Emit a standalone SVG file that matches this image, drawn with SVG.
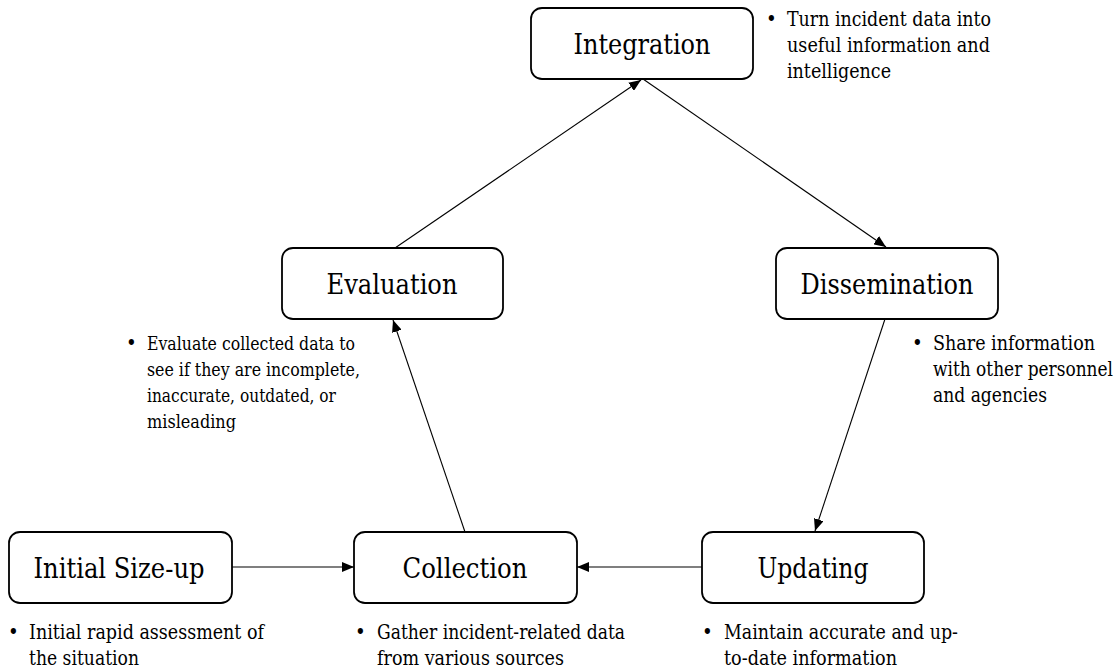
<svg xmlns="http://www.w3.org/2000/svg" width="1120" height="669" viewBox="0 0 1120 669">
  <style>
    .box { fill: #ffffff; stroke: #000000; stroke-width: 1.8; }
    text { font-family: 'DejaVu Serif Condensed', 'DejaVu Serif', 'Liberation Serif', serif; font-stretch: condensed; fill: #000000; }
    .label { font-size: 27.7px; text-anchor: middle; }
    .note { font-size: 20.2px; }
    .note-sm { font-size: 18.4px; }
    .edge { stroke: #000000; stroke-width: 1.1; fill: none; marker-end: url(#arrow); }
  </style>
  <defs>
    <marker id="arrow" viewBox="0 0 12 10" refX="12" refY="5" markerWidth="12" markerHeight="10" markerUnits="userSpaceOnUse" orient="auto">
      <path d="M0,0 L12,5 L0,10 Z" fill="#000000"/>
    </marker>
  </defs>
  <rect width="1120" height="669" fill="#ffffff"/>

  <!-- connectors -->
  <g id="connectors">
    <line class="edge" x1="232" y1="567" x2="354" y2="567"/>
    <line class="edge" x1="702" y1="567" x2="577" y2="567"/>
    <line class="edge" x1="465" y1="532" x2="393" y2="320"/>
    <line class="edge" x1="395" y1="248" x2="641" y2="80"/>
    <line class="edge" x1="643" y1="79" x2="886" y2="247"/>
    <line class="edge" x1="885" y1="319" x2="815" y2="531"/>
  </g>

  <!-- Integration -->
  <g id="integration">
    <rect class="box" x="531" y="8" width="222" height="71" rx="11"/>
    <text class="label" x="642" y="54" textLength="137" lengthAdjust="spacingAndGlyphs">Integration</text>
    <text class="note" x="766" y="26">•</text>
    <text class="note" x="787" y="26" textLength="204" lengthAdjust="spacingAndGlyphs">Turn incident data into</text>
    <text class="note" x="787" y="52" textLength="203" lengthAdjust="spacingAndGlyphs">useful information and</text>
    <text class="note" x="787" y="78" textLength="104" lengthAdjust="spacingAndGlyphs">intelligence</text>
  </g>

  <!-- Evaluation -->
  <g id="evaluation">
    <rect class="box" x="282" y="248" width="221" height="71" rx="11"/>
    <text class="label" x="392" y="294" textLength="131" lengthAdjust="spacingAndGlyphs">Evaluation</text>
    <text class="note" x="126" y="350">•</text>
    <text class="note-sm" x="147" y="350" textLength="208" lengthAdjust="spacingAndGlyphs">Evaluate collected data to</text>
    <text class="note-sm" x="147" y="376" textLength="213" lengthAdjust="spacingAndGlyphs">see if they are incomplete,</text>
    <text class="note-sm" x="147" y="402" textLength="189" lengthAdjust="spacingAndGlyphs">inaccurate, outdated, or</text>
    <text class="note-sm" x="147" y="428" textLength="89" lengthAdjust="spacingAndGlyphs">misleading</text>
  </g>

  <!-- Dissemination -->
  <g id="dissemination">
    <rect class="box" x="776" y="248" width="222" height="71" rx="11"/>
    <text class="label" x="887" y="294" textLength="173" lengthAdjust="spacingAndGlyphs">Dissemination</text>
    <text class="note" x="912" y="350">•</text>
    <text class="note" x="933" y="350" textLength="162" lengthAdjust="spacingAndGlyphs">Share information</text>
    <text class="note" x="933" y="376" textLength="180" lengthAdjust="spacingAndGlyphs">with other personnel</text>
    <text class="note" x="933" y="402" textLength="114" lengthAdjust="spacingAndGlyphs">and agencies</text>
  </g>

  <!-- Initial Size-up -->
  <g id="initial-size-up">
    <rect class="box" x="9" y="532" width="223" height="71" rx="11"/>
    <text class="label" x="119" y="578" textLength="171" lengthAdjust="spacingAndGlyphs">Initial Size-up</text>
    <text class="note" x="8" y="639">•</text>
    <text class="note" x="29" y="639" textLength="235" lengthAdjust="spacingAndGlyphs">Initial rapid assessment of</text>
    <text class="note" x="29" y="665" textLength="110" lengthAdjust="spacingAndGlyphs">the situation</text>
  </g>

  <!-- Collection -->
  <g id="collection">
    <rect class="box" x="354" y="532" width="223" height="71" rx="11"/>
    <text class="label" x="465" y="578" textLength="125" lengthAdjust="spacingAndGlyphs">Collection</text>
    <text class="note" x="355" y="639">•</text>
    <text class="note" x="377" y="639" textLength="248" lengthAdjust="spacingAndGlyphs">Gather incident-related data</text>
    <text class="note" x="377" y="665" textLength="187" lengthAdjust="spacingAndGlyphs">from various sources</text>
  </g>

  <!-- Updating -->
  <g id="updating">
    <rect class="box" x="702" y="532" width="222" height="71" rx="11"/>
    <text class="label" x="813" y="578" textLength="111" lengthAdjust="spacingAndGlyphs">Updating</text>
    <text class="note" x="702" y="639">•</text>
    <text class="note" x="724" y="639" textLength="234" lengthAdjust="spacingAndGlyphs">Maintain accurate and up-</text>
    <text class="note" x="724" y="665" textLength="173" lengthAdjust="spacingAndGlyphs">to-date information</text>
  </g>
</svg>
